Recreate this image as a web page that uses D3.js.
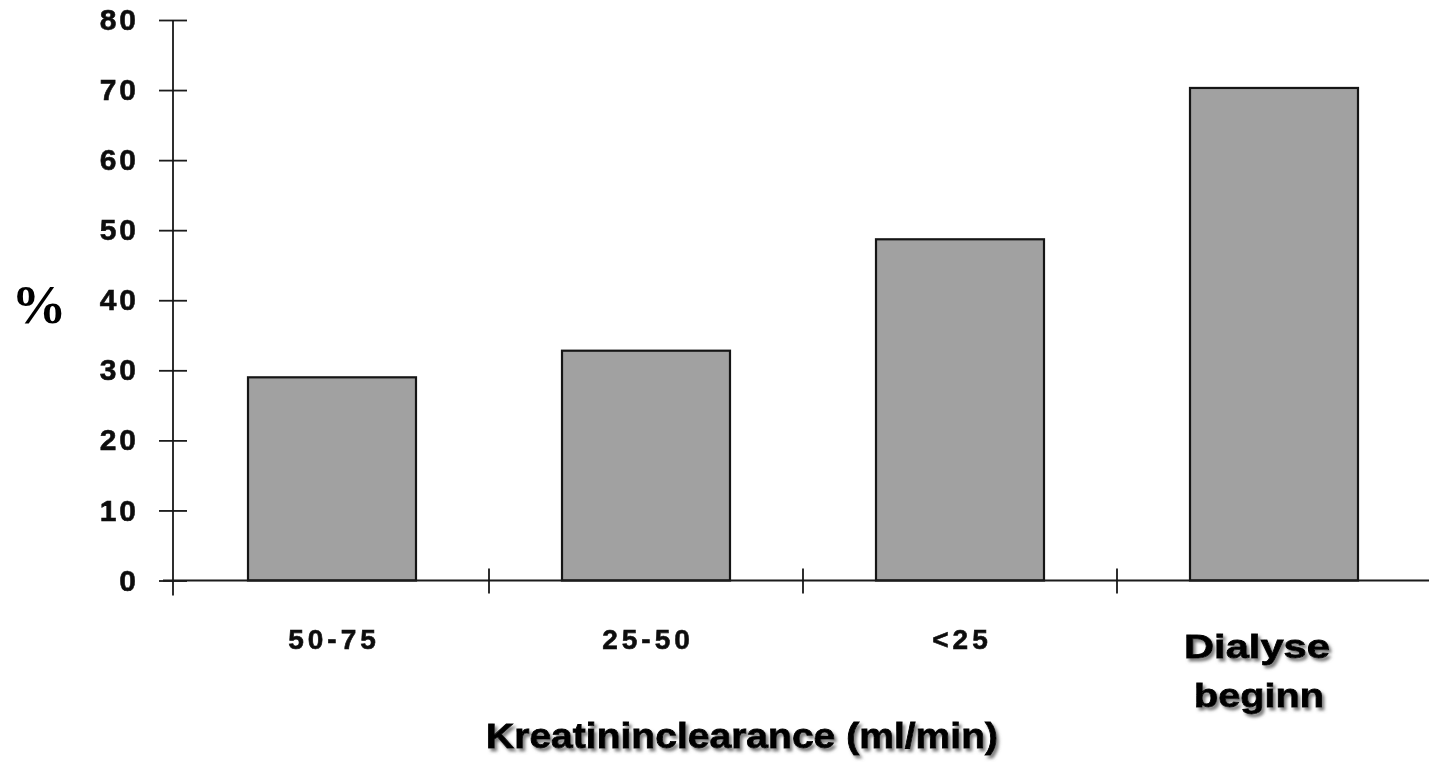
<!DOCTYPE html>
<html>
<head>
<meta charset="utf-8">
<script src="https://cdn.jsdelivr.net/npm/d3@7"></script>
<style>
  html, body { margin: 0; padding: 0; background: #fff; }
  svg { display: block; }
</style>
</head>
<body>
<svg id="chart" width="1429" height="767"></svg>
<script>
// Share of patients (%) by creatinine clearance group
const categories = ["50-75", "25-50", "<25", "Dialyse beginn"];
const percentValues = [29.0, 32.8, 48.7, 70.3];
const yTickValues = [0, 10, 20, 30, 40, 50, 60, 70, 80];
const yAxisLabel = "%";
const xAxisTitle = "Kreatininclearance (ml/min)";

const svg = d3.select("#chart");

const defs = svg.append("defs");
const shadow = defs.append("filter")
  .attr("id", "textShadow")
  .attr("x", "-10%").attr("y", "-30%")
  .attr("width", "130%").attr("height", "180%");
shadow.append("feDropShadow")
  .attr("dx", 2.5).attr("dy", 3)
  .attr("stdDeviation", 1.6)
  .attr("flood-color", "#6a6a6a")
  .attr("flood-opacity", 0.85);

const soft = defs.append("filter").attr("id", "soft");
soft.append("feGaussianBlur").attr("stdDeviation", 0.45);

const x = d3.scaleBand()
  .domain(categories)
  .range([175, 1431])
  .paddingInner(0.465)
  .paddingOuter(0.2325);

const y = d3.scaleLinear()
  .domain([0, 80])
  .range([580.5, 20]);

const axisColor = "#1a1a1a";
const tickFont = "'Liberation Sans', Arial, Helvetica, sans-serif";

// Bars
svg.append("g")
  .selectAll("rect")
  .data(percentValues)
  .join("rect")
  .attr("x", (d, i) => x(categories[i]))
  .attr("y", d => y(d))
  .attr("width", x.bandwidth())
  .attr("height", d => y(0) - y(d))
  .attr("fill", "#a1a1a1")
  .attr("stroke", "#151515")
  .attr("stroke-width", 2.2);

// Y axis with ticks crossing the axis line
const yAxis = d3.axisLeft(y)
  .tickValues(yTickValues)
  .tickSize(14)
  .tickPadding(20);

const gy = svg.append("g")
  .attr("transform", "translate(173,0)")
  .attr("filter", "url(#soft)")
  .call(yAxis);
gy.select(".domain").remove();
gy.append("line")
  .attr("x1", 0).attr("x2", 0)
  .attr("y1", y(80)).attr("y2", y(0) + 15)
  .attr("stroke", axisColor).attr("stroke-width", 1.8);
gy.selectAll(".tick line")
  .attr("x1", 14)
  .attr("stroke", axisColor).attr("stroke-width", 1.8);
gy.selectAll(".tick text")
  .attr("fill", "#111")
  .attr("stroke", "#111")
  .attr("stroke-width", 0.6)
  .style("font-family", tickFont)
  .style("font-weight", "bold")
  .style("font-size", "30px")
  .style("letter-spacing", "3px");

// X axis: baseline with ticks between the category bands
const gx = svg.append("g").attr("filter", "url(#soft)");
gx.append("line")
  .attr("x1", 163).attr("x2", 1429)
  .attr("y1", y(0)).attr("y2", y(0))
  .attr("stroke", axisColor).attr("stroke-width", 1.8);

const boundaries = categories.slice(1).map(c => x(c) - (x.step() - x.bandwidth()) / 2);
gx.selectAll("line.sep")
  .data(boundaries)
  .join("line")
  .attr("class", "sep")
  .attr("x1", d => d).attr("x2", d => d)
  .attr("y1", y(0) - 12).attr("y2", y(0) + 13)
  .attr("stroke", axisColor).attr("stroke-width", 1.8);

// Category labels
const numericCats = categories.slice(0, 3);
gx.selectAll("text.cat")
  .data(numericCats)
  .join("text")
  .attr("class", "cat")
  .attr("x", d => x(d) + x.bandwidth() / 2 + 2)
  .attr("y", 649)
  .attr("text-anchor", "middle")
  .attr("fill", "#111")
  .attr("stroke", "#111")
  .attr("stroke-width", 0.6)
  .style("font-family", tickFont)
  .style("font-weight", "bold")
  .style("font-size", "28px")
  .style("letter-spacing", "4px")
  .text(d => d);

// Last category is written over two lines in larger type
const lastCat = categories[3];
const lastWords = lastCat.split(" ");
const lastCenter = x(lastCat) + x.bandwidth() / 2 - 17;
const lastWidths = [146, 130];
svg.append("g")
  .attr("filter", "url(#textShadow)")
  .selectAll("text")
  .data(lastWords)
  .join("text")
  .attr("x", (d, i) => lastCenter + i * 2)
  .attr("y", (d, i) => 658 + i * 49)
  .attr("text-anchor", "middle")
  .attr("textLength", (d, i) => lastWidths[i])
  .attr("lengthAdjust", "spacingAndGlyphs")
  .attr("fill", "#000")
  .attr("stroke", "#000")
  .attr("stroke-width", 0.8)
  .style("font-family", tickFont)
  .style("font-weight", "bold")
  .style("font-size", "34px")
  .text(d => d);

// Axis title
svg.append("text")
  .attr("x", 742)
  .attr("y", 748)
  .attr("text-anchor", "middle")
  .attr("textLength", 512)
  .attr("lengthAdjust", "spacingAndGlyphs")
  .attr("filter", "url(#textShadow)")
  .attr("fill", "#000")
  .attr("stroke", "#000")
  .attr("stroke-width", 0.8)
  .style("font-family", tickFont)
  .style("font-weight", "bold")
  .style("font-size", "35px")
  .text(xAxisTitle);

// Y axis label
svg.append("text")
  .attr("x", 39)
  .attr("y", 323)
  .attr("text-anchor", "middle")
  .attr("filter", "url(#soft)")
  .attr("fill", "#000")
  .style("font-family", "'Liberation Serif', 'Times New Roman', serif")
  .style("font-weight", "bold")
  .style("font-size", "55px")
  .text(yAxisLabel);
</script>
</body>
</html>
